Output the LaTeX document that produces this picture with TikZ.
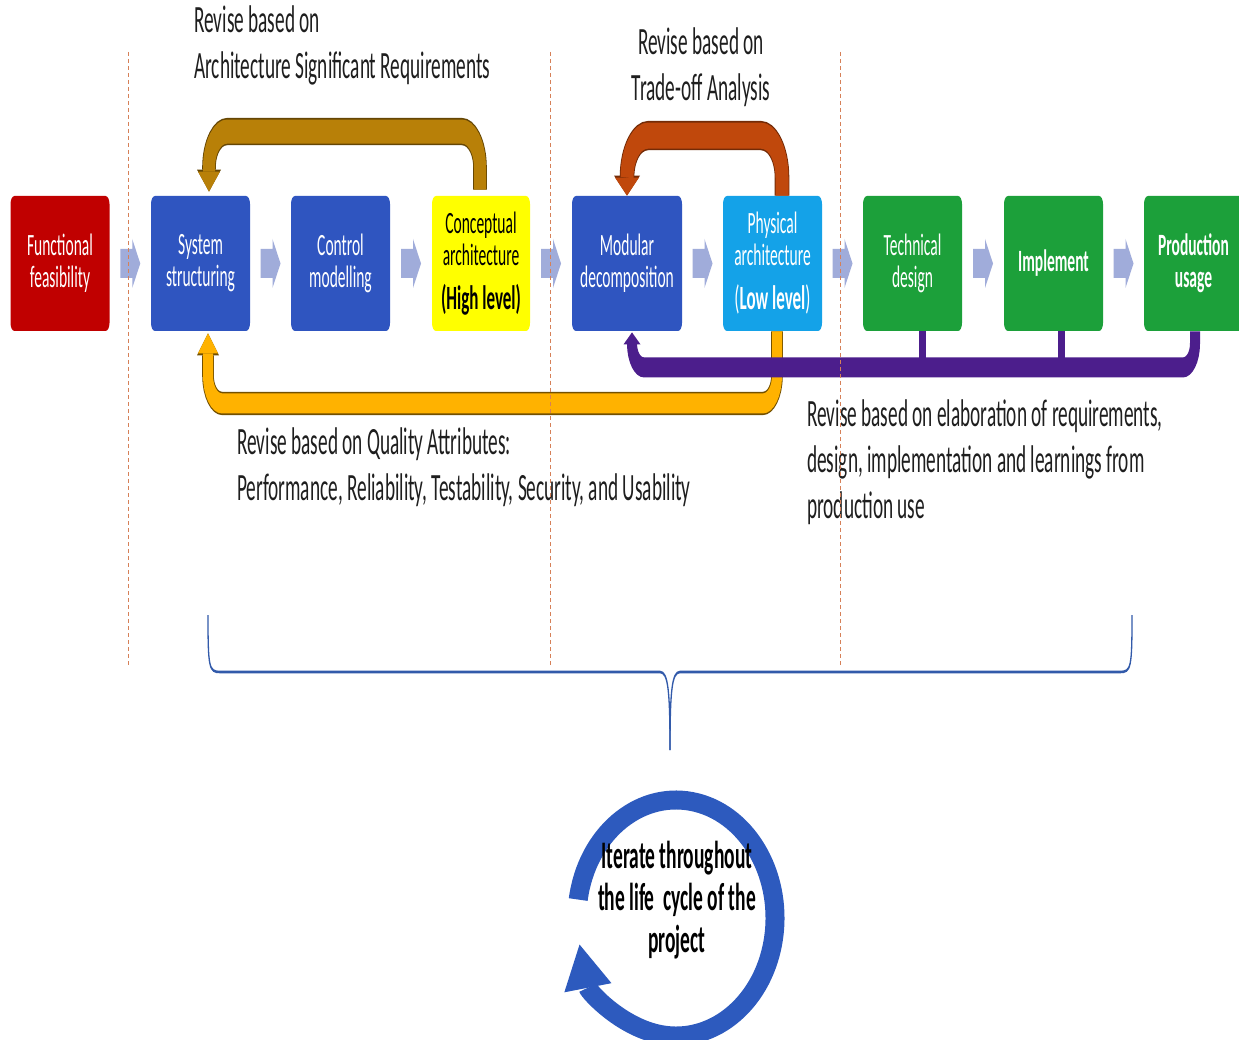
\documentclass[tikz,border=0pt]{standalone}
\usepackage{fontspec}
\setmainfont{Carlito}
\usetikzlibrary{arrows.meta,calc}

\definecolor{fred}{RGB}{192,0,0}
\definecolor{fblue}{RGB}{47,85,192}
\definecolor{fyellow}{RGB}{255,255,0}
\definecolor{fcyan}{RGB}{20,162,232}
\definecolor{fgreen}{RGB}{28,160,58}
\definecolor{chevc}{RGB}{160,172,218}
\definecolor{asrc}{RGB}{184,128,8}
\definecolor{tradec}{RGB}{192,72,12}
\definecolor{qac}{RGB}{255,178,0}
\definecolor{elabc}{RGB}{76,30,140}
\definecolor{ringc}{RGB}{45,90,190}
\definecolor{bracec}{RGB}{50,90,170}
\definecolor{sepc}{RGB}{214,128,88}
\definecolor{textc}{RGB}{30,30,30}

\tikzset{
  stage/.style={rectangle, rounded corners=4pt, minimum width=#1,
    minimum height=67.5pt, inner sep=0pt, align=center, text=white,
    font=\fontsize{15.5}{16}\selectfont},
  stage/.default=99pt,
  chev/.style={fill=chevc},
  lbl/.style={inner sep=0pt, text=textc, font=\fontsize{19.3}{23}\selectfont},
  sepline/.style={draw=sepc, line width=0.8pt, dash pattern=on 4pt off 3pt},
  bracestyle/.style={draw=bracec, line width=1.3pt},
}

% block arrow between two stages
\newcommand\chevron[2]{%
  \fill[chev] ($(#1.east)!0.5!(#2.west)$) ++(-10,-14.5) -- ++(12,0) -- ++(0,-10)
    -- ++(8,24.5) -- ++(-8,24.5) -- ++(0,-10) -- ++(-12,0) -- cycle;}

\begin{document}
\begin{tikzpicture}[x=1pt,y=-1pt]
\useasboundingbox[fill=white] (0,0) rectangle (1239,1040);

% circular iteration arrow
\begin{scope}[shift={(676,918)}, y=1pt]
  \draw[ringc, line width=19pt, -{Triangle[width=48pt,length=44pt,line width=0pt]}]
    (171:99pt and 118pt) arc[start angle=171, end angle=-167, x radius=99pt, y radius=118pt];
\end{scope}

% main flow, drawn in a vertically stretched frame
\begin{scope}[y=-0.5pt, transform canvas={yscale=2}]
  \node[stage, fill=fred] (func) at (60,263.5) {Functional\\feasibility};
  \node[stage, fill=fblue] (sys) at (200.5,263.5) {System\\structuring};
  \node[stage, fill=fblue] (ctrl) at (340.5,263.5) {Control\\modelling};
  \node[stage=98pt, fill=fyellow, text=black] (concept) at (481,263.5)
    {Conceptual\\architecture\\[6pt]{\fontsize{17}{17}\selectfont\bfseries (High level)}};
  \node[stage=110pt, fill=fblue] (modular) at (627,263.5) {Modular\\decomposition};
  \node[stage, fill=fcyan] (phys) at (772.5,263.5)
    {Physical\\architecture\\[6pt]{\fontsize{17}{17}\selectfont(\textbf{Low level})}};
  \node[stage, fill=fgreen] (tech) at (912.5,263.5) {Technical\\design};
  \node[stage, fill=fgreen, font=\fontsize{15.5}{16}\selectfont\bfseries] (impl) at (1053.5,263.5) {Implement};
  \node[stage, fill=fgreen, font=\fontsize{15.5}{16}\selectfont\bfseries] (prod) at (1193.5,263.5) {Production\\usage};

  \chevron{func}{sys}
  \chevron{sys}{ctrl}
  \chevron{ctrl}{concept}
  \chevron{concept}{modular}
  \chevron{modular}{phys}
  \chevron{phys}{tech}
  \chevron{tech}{impl}
  \chevron{impl}{prod}

  % revision loops
  \draw[asrc, line width=12pt, rounded corners=18pt,
        preaction={draw=asrc!55!black, line width=13.6pt, -{Triangle[width=24pt,length=11pt,line width=0pt]}},
        -{Triangle[width=22pt,length=10pt,line width=0pt]}]
    ($(concept.north)+(-1,-6)$) -- ++(0,-58) -| ($(sys.north)+(8.5,-4)$);
  \draw[tradec, line width=13pt, rounded corners=21pt,
        preaction={draw=tradec!60!black, line width=14.6pt, -{Triangle[width=26pt,length=10pt,line width=0pt]}},
        -{Triangle[width=24pt,length=9pt,line width=0pt]}]
    ($(phys.north)+(9.5,0)$) -- ++(0,-60) -| ($(modular.north)+(0,0)$);
  \draw[qac, line width=10pt, rounded corners=14pt,
        preaction={draw=qac!45!black, line width=11.6pt, -{Triangle[width=22pt,length=11pt,line width=0pt]}},
        -{Triangle[width=20pt,length=10pt,line width=0pt]}]
    ($(phys.south)+(4.5,0)$) -- ++(0,72) -| ($(sys.south)+(7.5,2)$);
  \draw[elabc, line width=7pt] ($(tech.south)+(9.5,0)$) -- ++(0,36);
  \draw[elabc, line width=7pt] ($(impl.south)+(7.5,0)$) -- ++(0,36);
  \draw[elabc, line width=10pt, rounded corners=12pt,
        -{Triangle[width=17pt,length=6pt,line width=0pt]}]
    ($(prod.south)+(1.5,0)$) -- ++(0,36) -| ($(modular.south)+(5,1)$);

  % labels
  \node[lbl, anchor=west, align=left] (asrlbl) at (194,45)
    {Revise based on\\Architecture Significant Requirements};
  \node[lbl, align=center] (tradelbl) at (701,67.5)
    {Revise based on\\Trade-off Analysis};
  \node[lbl, anchor=west, align=left] (qalbl) at (237,467)
    {Revise based on Quality Attributes:\\Performance, Reliability, Testability, Security, and Usability};
  \node[lbl, anchor=west, align=left] (elablbl) at (807,462)
    {Revise based on elaboration of requirements,\\design, implementation and learnings from\\production use};
  \node[inner sep=0pt, align=center, text=black, font=\fontsize{19.5}{21}\selectfont\bfseries]
    (cyclelbl) at (677,900) {Iterate throughout\\the life\ \ cycle of the\\project};

  % brace grouping the architecture stages
  \draw[bracestyle] (208,615) .. controls (208,668) and (209,672) .. (220,672) -- (660,672)
    .. controls (668,672) and (670,690) .. (670,750);
  \draw[bracestyle] (1132,615) .. controls (1132,668) and (1131,672) .. (1120,672) -- (680,672)
    .. controls (672,672) and (670,690) .. (670,750);
\end{scope}

% phase separators
\draw[sepline] (128,52) -- (128,665);
\draw[sepline] (550,52) -- (550,665);
\draw[sepline] (840,52) -- (840,665);
\end{tikzpicture}
\end{document}
